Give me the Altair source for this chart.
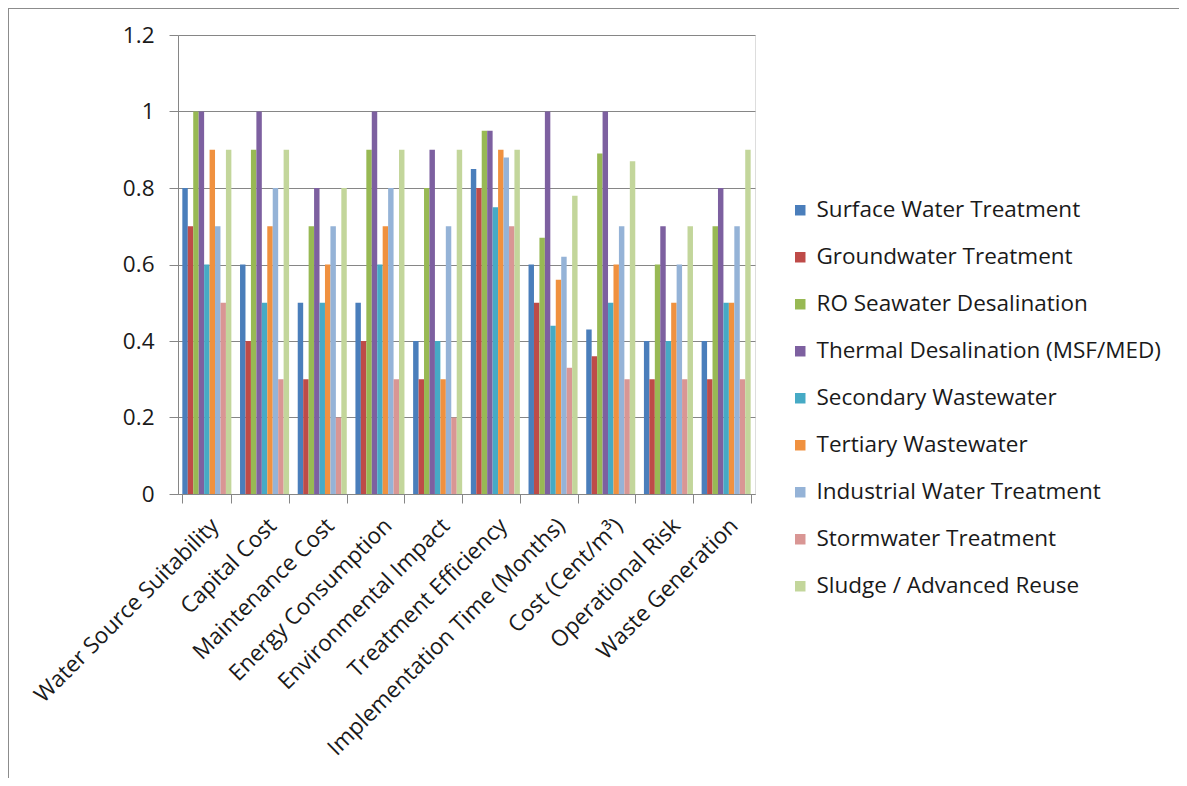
import altair as alt
import pandas as pd

categories = [
    "Water Source Suitability", "Capital Cost", "Maintenance Cost",
    "Energy Consumption", "Environmental Impact", "Treatment Efficiency",
    "Implementation Time (Months)", "Cost (Cent/m³)", "Operational Risk",
    "Waste Generation",
]
series = [
    "Surface Water Treatment", "Groundwater Treatment", "RO Seawater Desalination",
    "Thermal Desalination (MSF/MED)", "Secondary Wastewater", "Tertiary Wastewater",
    "Industrial Water Treatment", "Stormwater Treatment", "Sludge / Advanced Reuse",
]
colors = ["#4A7EBB", "#BE4B48", "#98B954", "#7D60A0", "#46AAC5",
          "#F0913F", "#95B3D7", "#D99694", "#C3D69B"]

surface = [0.80, 0.60, 0.50, 0.50, 0.40, 0.85, 0.60, 0.43, 0.40, 0.40]
ground = [0.70, 0.40, 0.30, 0.40, 0.30, 0.80, 0.50, 0.36, 0.30, 0.30]
ro_sea = [1.00, 0.90, 0.70, 0.90, 0.80, 0.95, 0.67, 0.89, 0.60, 0.70]
thermal = [1.00, 1.00, 0.80, 1.00, 0.90, 0.95, 1.00, 1.00, 0.70, 0.80]
secondary = [0.60, 0.50, 0.50, 0.60, 0.40, 0.75, 0.44, 0.50, 0.40, 0.50]
tertiary = [0.90, 0.70, 0.60, 0.70, 0.30, 0.90, 0.56, 0.60, 0.50, 0.50]
industrial = [0.70, 0.80, 0.70, 0.80, 0.70, 0.88, 0.62, 0.70, 0.60, 0.70]
storm = [0.50, 0.30, 0.20, 0.30, 0.20, 0.70, 0.33, 0.30, 0.30, 0.30]
sludge = [0.90, 0.90, 0.80, 0.90, 0.90, 0.90, 0.78, 0.87, 0.70, 0.90]

all_values = [surface, ground, ro_sea, thermal, secondary, tertiary, industrial, storm, sludge]
rows = []
for s, vals in zip(series, all_values):
    for c, v in zip(categories, vals):
        rows.append({"category": c, "series": s, "value": v})
df = pd.DataFrame(rows)

FONT = "Open Sans"
GRID = "#868686"
FS = 22.5

W, H = 577, 459
PAD_L, PAD_T = 170, 27
PAD_R = 1171 - PAD_L - W
PAD_B = 770 - PAD_T - H

bars = alt.Chart(df).mark_bar().encode(
    x=alt.X("category:N", sort=categories,
            scale=alt.Scale(paddingInner=0.15, paddingOuter=0.075),
            axis=alt.Axis(title=None, labelAngle=-45, labelFontSize=FS, labelFont=FONT,
                          labelColor="#1a1a1a", tickBand="extent", tickSize=9,
                          tickColor=GRID, domainColor=GRID, labelPadding=11,
                          labelLimit=400, grid=False)),
    xOffset=alt.XOffset("series:N", sort=series, scale=alt.Scale(paddingInner=0, paddingOuter=0)),
    y=alt.Y("value:Q", scale=alt.Scale(domain=[0, 1.2], nice=False),
            axis=alt.Axis(title=None, values=[0, 0.2, 0.4, 0.6, 0.8, 1.0, 1.2],
                          format=".1~f", labelFontSize=FS, labelFont=FONT,
                          labelColor="#1a1a1a", tickSize=9, tickColor=GRID,
                          domainColor=GRID, gridColor=GRID, labelPadding=15)),
    color=alt.Color("series:N", sort=series,
                    scale=alt.Scale(domain=series, range=colors),
                    legend=alt.Legend(title=None, orient="none", legendX=611, legendY=164,
                                      symbolType="square", symbolSize=110,
                                      symbolStrokeWidth=0, labelFontSize=FS,
                                      labelFont=FONT, labelColor="#1a1a1a",
                                      rowPadding=24, labelOffset=5, labelLimit=500)),
)

frame = alt.Chart(pd.DataFrame({"a": [0]})).mark_rect(
    fill=None, stroke="#8c8c8c", strokeWidth=2
).encode(
    x=alt.value(-PAD_L), x2=alt.value(W + PAD_R + 40),
    y=alt.value(-PAD_T), y2=alt.value(H + PAD_B + 40),
)

chart = alt.layer(bars, frame).properties(
    width=W, height=H,
    autosize=alt.AutoSizeParams(type="none"),
    padding={"left": PAD_L, "top": PAD_T, "right": PAD_R, "bottom": PAD_B},
).configure_view(stroke=None).configure(background="white")

chart.save("out.html", embed_options={"renderer": "svg", "actions": False})
